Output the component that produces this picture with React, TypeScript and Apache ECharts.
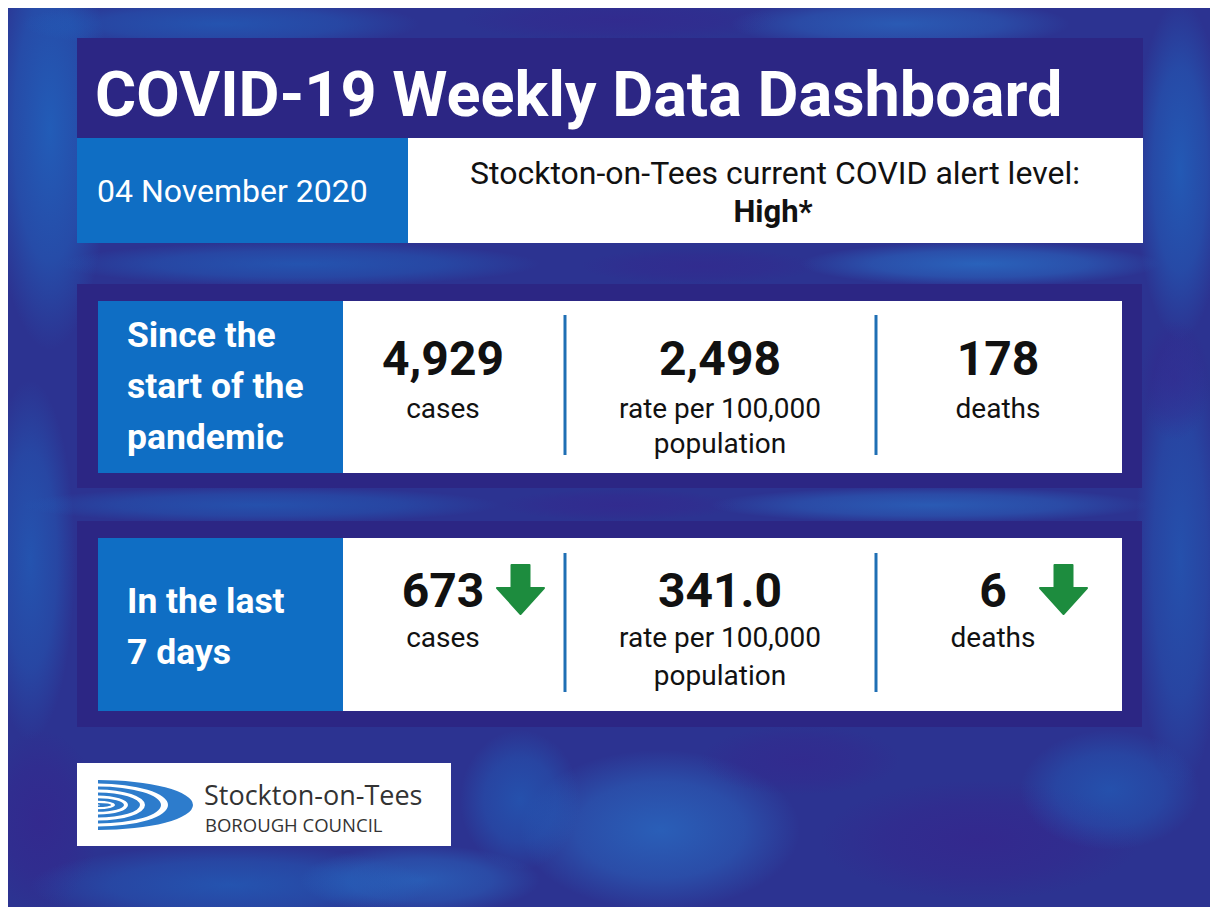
import React, { useEffect, useRef } from "react";
import * as echarts from "echarts";

// ---------- data ----------
const dashboardTitle = "COVID-19 Weekly Data Dashboard";
const reportDate = "04 November 2020";
const alertLine = "Stockton-on-Tees current COVID alert level:";
const alertLevel = "High*";
const sectionLabels = ["Since the\nstart of the\npandemic", "In the last\n7 days"];
const cumulativeValues = ["4,929", "2,498", "178"];
const weeklyValues = ["673", "341.0", "6"];
const metricLabels = ["cases", "rate per 100,000\npopulation", "deaths"];
const weeklyTrend = ["down", "", "down"];
const councilName = ["Stockton-on-Tees", "BOROUGH COUNCIL"];

// ---------- style ----------
const W = 1210;
const H = 907;

const C_PURPLE = "#2c2684";
const C_BLUE = "#0f6ec4";
const C_WHITE = "#ffffff";
const C_TEXT = "#111111";
const C_GREEN = "#1d8c3e";
const C_DIV = "#1f6fb4";
const FONT = "Roboto, 'Noto Sans', sans-serif";

// logo swoosh path (nested crescents)
function crescent(rx: number, ry: number, rx2: number, ry2: number) {
  return `M0,${-ry} A${rx},${ry} 0 0 1 0,${ry} L0,${ry2} A${rx2},${ry2} 0 0 0 0,${-ry2} Z `;
}
const logoPath =
  crescent(95, 25, 70, 21.5) +
  crescent(63, 18.5, 47, 15.5) +
  crescent(42, 12.5, 30, 9.5) +
  crescent(26, 6.8, 17, 4.2) +
  crescent(13, 2, 2, 0.5);
echarts.graphic.registerShape("logo", echarts.graphic.extendPath(logoPath, {}));

function arrowDown(x0: number, yTop: number, w: number, shaftW: number, headTop: number, tip: number) {
  const cx = x0 + w / 2;
  return [
    [cx - shaftW / 2, yTop],
    [cx + shaftW / 2, yTop],
    [cx + shaftW / 2, headTop],
    [x0 + w, headTop],
    [cx, tip],
    [x0, headTop],
    [cx - shaftW / 2, headTop],
  ];
}

function softFill(rgb: string, a: number) {
  return {
    type: "radial",
    x: 0.5,
    y: 0.5,
    r: 0.5,
    colorStops: [
      { offset: 0, color: `rgba(${rgb},${a})` },
      { offset: 0.6, color: `rgba(${rgb},${a * 0.6})` },
      { offset: 1, color: `rgba(${rgb},0)` },
    ],
  };
}

function buildGraphic() {
  const els: any[] = [];
  // background texture
  els.push({ type: "rect", shape: { x: 0, y: 0, width: W, height: H }, style: { fill: "#2c3391" } });
  const BL = "30,110,200";
  const LB = "40,130,215";
  const PU = "55,35,140";
  const blobs: [number, number, number, number, string, number][] = [
    [50, 130, 60, 220, BL, 0.7],
    [30, 560, 45, 180, BL, 0.55],
    [40, 820, 60, 90, PU, 0.6],
    [220, 24, 200, 26, BL, 0.55],
    [620, 20, 160, 22, PU, 0.5],
    [900, 24, 170, 26, LB, 0.5],
    [1180, 170, 45, 170, BL, 0.65],
    [1180, 560, 45, 230, BL, 0.5],
    [1175, 380, 35, 60, PU, 0.5],
    [300, 264, 240, 22, BL, 0.55],
    [700, 266, 120, 18, PU, 0.45],
    [980, 264, 180, 22, LB, 0.6],
    [260, 505, 240, 18, BL, 0.5],
    [620, 505, 120, 16, PU, 0.5],
    [930, 505, 220, 18, LB, 0.5],
    [660, 830, 140, 80, LB, 0.55],
    [230, 885, 200, 40, BL, 0.55],
    [980, 840, 160, 60, PU, 0.65],
    [520, 800, 60, 70, BL, 0.5],
    [1110, 790, 90, 60, BL, 0.5],
    [800, 760, 100, 35, PU, 0.5],
    [420, 880, 120, 35, LB, 0.5],
  ];
  blobs.forEach(([cx, cy, rx, ry, c, op]) => {
    els.push({
      type: "ellipse",
      shape: { cx, cy, rx, ry },
      style: { fill: softFill(c, op) },
    });
  });
  // white page margin
  els.push({ type: "rect", shape: { x: 0, y: 0, width: W, height: 8 }, style: { fill: "#ffffff" } });
  els.push({ type: "rect", shape: { x: 0, y: 0, width: 8, height: H }, style: { fill: "#ffffff" } });

  // title panel
  els.push({ type: "rect", shape: { x: 77, y: 38, width: 1143 - 77, height: 243 - 38 }, style: { fill: C_PURPLE } });
  els.push({
    type: "text",
    x: 95,
    y: 94,
    style: {
      text: dashboardTitle,
      fill: C_WHITE,
      fontSize: 63,
      fontWeight: "bold",
      fontFamily: FONT,
      textAlign: "left",
      textVerticalAlign: "middle",
    },
  });
  // date box
  els.push({ type: "rect", shape: { x: 77, y: 138, width: 408 - 77, height: 243 - 138 }, style: { fill: C_BLUE } });
  els.push({
    type: "text",
    x: 97,
    y: 191,
    style: { text: reportDate, fill: C_WHITE, fontSize: 32, fontFamily: FONT, textAlign: "left", textVerticalAlign: "middle" },
  });
  // alert box
  els.push({ type: "rect", shape: { x: 408, y: 138, width: 1143 - 408, height: 243 - 138 }, style: { fill: C_WHITE } });
  els.push({
    type: "text",
    x: 775,
    y: 173,
    style: { text: alertLine, fill: C_TEXT, fontSize: 32, fontFamily: FONT, textAlign: "center", textVerticalAlign: "middle" },
  });
  els.push({
    type: "text",
    x: 773,
    y: 211,
    style: { text: alertLevel, fill: C_TEXT, fontSize: 31, fontWeight: "bold", fontFamily: FONT, textAlign: "center", textVerticalAlign: "middle" },
  });

  // stat panels
  const panels = [
    { top: 284, inTop: 301, inBot: 473, bot: 488, values: cumulativeValues, valY: 358, labY: 408, lh: 35, divTop: 315, divBot: 455, cols: [443, 720, 998], labelY: 386 },
    { top: 521, inTop: 538, inBot: 711, bot: 727, values: weeklyValues, valY: 590, labY: 637, lh: 38, divTop: 553, divBot: 692, cols: [443, 720, 993], labelY: 626 },
  ];
  const arrowX = [497, 0, 1040];
  panels.forEach((p, pi) => {
    els.push({ type: "rect", shape: { x: 77, y: p.top, width: 1142 - 77, height: p.bot - p.top }, style: { fill: C_PURPLE } });
    els.push({ type: "rect", shape: { x: 98, y: p.inTop, width: 343 - 98, height: p.inBot - p.inTop }, style: { fill: C_BLUE } });
    els.push({ type: "rect", shape: { x: 343, y: p.inTop, width: 1122 - 343, height: p.inBot - p.inTop }, style: { fill: C_WHITE } });
    els.push({
      type: "text",
      x: 127,
      y: p.labelY,
      style: {
        text: sectionLabels[pi],
        fill: C_WHITE,
        fontSize: 35.5,
        fontWeight: "bold",
        fontFamily: FONT,
        lineHeight: 51,
        textAlign: "left",
        textVerticalAlign: "middle",
      },
    });
    [565, 876].forEach((dx) => {
      els.push({ type: "line", shape: { x1: dx, y1: p.divTop, x2: dx, y2: p.divBot }, style: { stroke: C_DIV, lineWidth: 3 } });
    });
    p.values.forEach((v, i) => {
      els.push({
        type: "text",
        x: p.cols[i],
        y: p.valY,
        style: { text: v, fill: C_TEXT, fontSize: 48, fontWeight: "bold", fontFamily: FONT, textAlign: "center", textVerticalAlign: "middle" },
      });
      els.push({
        type: "text",
        x: p.cols[i],
        y: p.labY - p.lh / 2,
        style: {
          text: metricLabels[i],
          fill: C_TEXT,
          fontSize: 28,
          fontFamily: FONT,
          lineHeight: p.lh,
          textAlign: "center",
          textVerticalAlign: "top",
        },
      });
      if (pi === 1 && weeklyTrend[i] === "down") {
        const ax = arrowX[i];
        els.push({
          type: "polygon",
          shape: { points: arrowDown(ax, 565, 47, 18, 588, 614) },
          style: { fill: C_GREEN, lineJoin: "round", stroke: C_GREEN, lineWidth: 2 },
        });
      }
    });
  });

  // logo box
  els.push({ type: "rect", shape: { x: 77, y: 763, width: 451 - 77, height: 846 - 763 }, style: { fill: C_WHITE } });
  els.push({ type: "logo", x: 98, y: 805, style: { fill: "#2d7ccc" } });
  els.push({
    type: "text",
    x: 204,
    y: 794,
    style: { text: councilName[0], fill: "#333333", fontSize: 27, lineHeight: 27, fontFamily: "'Open Sans', " + FONT, textAlign: "left", textVerticalAlign: "middle" },
  });
  els.push({
    type: "text",
    x: 205,
    y: 824,
    style: { text: councilName[1], fill: "#333333", fontSize: 18.5, lineHeight: 19, fontFamily: "'Open Sans', " + FONT, textAlign: "left", textVerticalAlign: "middle" },
  });
  return els;
}

export default function App() {
  const ref = useRef<HTMLDivElement>(null);
  useEffect(() => {
    if (!ref.current) return;
    const chart = echarts.init(ref.current, undefined, { renderer: "svg" });
    chart.setOption({ animation: false, graphic: { elements: buildGraphic() } });
    return () => chart.dispose();
  }, []);
  return <div ref={ref} style={{ position: "absolute", left: 0, top: 0, width: W, height: H }} />;
}
